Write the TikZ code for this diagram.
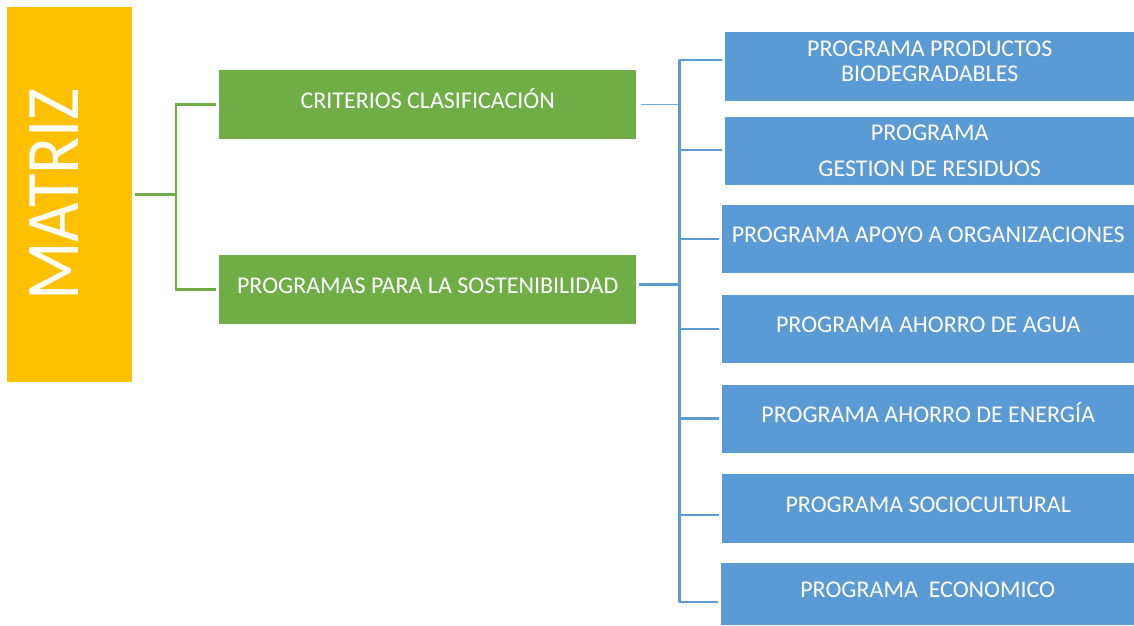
\documentclass[tikz,border=0pt]{standalone}
\usepackage{fontspec}
\setmainfont{Carlito}
\newfontfamily\matrizfont[FakeStretch=0.9]{Carlito}
\usetikzlibrary{calc}
\definecolor{matrizyellow}{HTML}{FFC000}
\definecolor{progreen}{HTML}{70AD47}
\definecolor{progblue}{HTML}{5B9BD5}
\begin{document}
\begin{tikzpicture}[x=1pt,y=-1pt,
		box/.style={rectangle, inner sep=0pt, anchor=north west, text=white, font=\fontsize{24pt}{25pt}\selectfont, align=center},
		oneline/.style={text height=15.5pt, text depth=8pt},
		greenbox/.style={box, oneline, fill=progreen, minimum width=417pt, minimum height=69pt},
		bluebox/.style={box, fill=progblue, minimum width=412pt, minimum height=68pt},
		greenline/.style={draw=progreen, line width=2.5pt},
		blueline/.style={draw=progblue, line width=3pt}]
		\useasboundingbox (0,0) rectangle (1134,625);
		
		\node[rectangle, inner sep=0pt, rotate=90, fill=matrizyellow, text=white, minimum width=375pt, minimum height=125pt, text height=50pt, text depth=33pt, font=\matrizfont\fontsize{76pt}{80pt}\selectfont] (matriz) at (69.5,194.5) {MATRIZ};
		
		\node[greenbox] (crit) at (219,70) {CRITERIOS CLASIFICACIÓN};
		\node[greenbox] (prog) at (219,255) {PROGRAMAS PARA LA SOSTENIBILIDAD};
		
		\node[bluebox, minimum width=409pt, minimum height=69pt] (p1) at (725,32) {PROGRAMA PRODUCTOS\\BIODEGRADABLES\rule[-10pt]{0pt}{0pt}};
		\node[bluebox, minimum width=409pt] (p2) at (725,117) {PROGRAMA\\[11pt]GESTION DE RESIDUOS};
		\node[bluebox, oneline] (p3) at (722,205) {PROGRAMA APOYO A ORGANIZACIONES};
		\node[bluebox, oneline] (p4) at (722,295) {PROGRAMA AHORRO DE AGUA};
		\node[bluebox, oneline] (p5) at (722,385) {PROGRAMA AHORRO DE ENERGÍA};
		\node[bluebox, oneline, minimum height=69pt] (p6) at (722,474) {PROGRAMA SOCIOCULTURAL};
		\node[bluebox, oneline, minimum width=413pt, minimum height=62pt] (p7) at (721,563) {PROGRAMA\ \ ECONOMICO};
		
		\coordinate (gjoin) at (176,194.5);
		\coordinate (bjoin) at ($(prog.east)+(43,-5)$);
		
		\draw[greenline, shorten <=3pt] (matriz.south) -- (gjoin);
		\draw[greenline, shorten <=3pt, shorten >=3pt] (crit.west) -| (gjoin) |- (prog.west);
		
		\draw[blueline, shorten <=3pt] ($(prog.east)+(0,-5)$) -- (bjoin);
		\draw[draw=progblue!85, line width=1.2pt, shorten <=5pt] (crit.east) -- (bjoin |- crit.east);
		\draw[blueline] ($(bjoin |- p1.west)+(0,-6.5)$) -- ($(bjoin |- p7.west)+(0,8)$);
		\foreach \p/\dy in {p1/-6.5, p2/-1, p3/0, p4/0, p5/-0.5, p6/6.5, p7/8}
		\draw[blueline, line width=2.5pt, shorten >=3pt] ($(bjoin |- \p.west)+(0,\dy)$) -- ($(\p.west)+(0,\dy)$);
		
	\end{tikzpicture}
\end{document}
